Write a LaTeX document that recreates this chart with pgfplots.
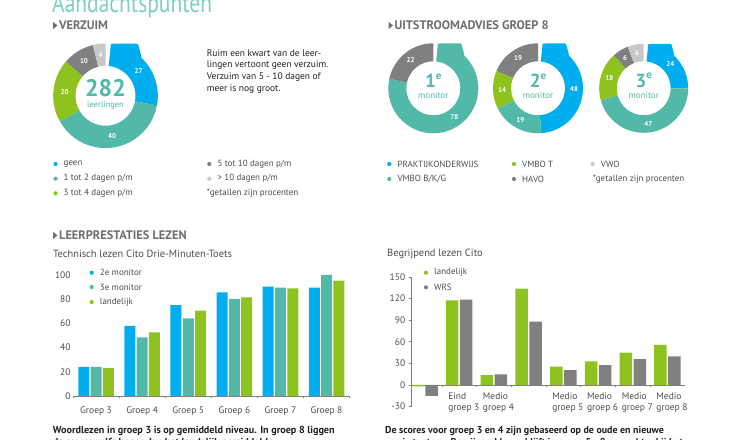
\documentclass[border=0pt]{standalone}
\usepackage{pgfplots}
\usepackage{pgfplotstable}
\pgfplotsset{compat=1.18}
\usepackage{fontspec}
\setmainfont{PT Sans}
\definecolor{cblue}{HTML}{00AEEF}
\definecolor{cteal}{HTML}{52B9A8}
\definecolor{cgreen}{HTML}{8DC21F}
\definecolor{cdgray}{HTML}{808080}
\definecolor{clgray}{HTML}{C8C8C8}
\definecolor{ctitle}{HTML}{7CCFC3}
\definecolor{chead}{HTML}{6D6E71}
\definecolor{ctext}{HTML}{231F20}
\definecolor{clab}{HTML}{4D4D4F}
\definecolor{caxis}{HTML}{808080}

\pgfplotstableread{
g b t l
0 24 24 23
1 58 48.5 52.6
2 75.2 64.2 70.5
3 85.7 80 81.5
4 90.4 89.5 89
5 89.5 100 95.3
}\techtable

\pgfplotstableread{
g land wrs
0 -2 -15
1 117.7 118.6
2 13.8 14.8
3 133.8 88
4 25.4 20.8
5 32.8 27.7
6 44.8 36
7 55.8 39.7
}\begtable

% donut: cx, cy (from top), r out, r in, total, list cum/value/colour
\newcommand{\donut}[6]{%
 \begin{scope}[shift={(#1,440-#2)}]
  \foreach \c/\v/\col [count=\i] in {#6} {
    \pgfmathsetmacro{\sa}{84-\c/#5*354}
    \pgfmathsetmacro{\ea}{84-(\c+\v)/#5*354}
    \pgfmathsetmacro{\ma}{(\sa+\ea)/2}
    \fill[\col] (\sa:#3) arc[start angle=\sa, end angle=\ea, radius=#3] -- (\ea:#4) arc[start angle=\ea, end angle=\sa, radius=#4] -- cycle;
    \ifnum\i=1
      \fill[\col, rounded corners=1bp] (84:#3) -- ({0.62*#3},{#3}) -- (46:{#3}) -- (60:{0.9*#3}) -- cycle;
    \fi
    \node[text=white, font=\bfseries\fontsize{7}{7}\selectfont] at (\ma:{(#3+#4)/2}) {\v};
  }
 \end{scope}}

\newcommand{\heading}[3]{%
  \fill[chead] (#1,440-#2+3.6) -- (#1,440-#2-3.6) -- (#1+4.5,440-#2) -- cycle;
  \node[anchor=west, inner sep=0pt, text=chead, font=\bfseries\fontsize{12.4}{12.4}\selectfont] at (#1+6,440-#2) {#3};}

\newcommand{\bul}[4]{% x y colour text
  \fill[#3] (#1,440-#2) circle (2.1);
  \node[anchor=west, inner sep=0pt, text=clab, font=\fontsize{9}{9}\selectfont] at (#1+8,440-#2) {#4};}

\begin{document}
\begin{tikzpicture}[x=1bp, y=1bp]
\useasboundingbox (0,0) rectangle (740,440);
\fill[white] (0,0) rectangle (740,440);
\coordinate (A1) at (73,44);
\coordinate (A2) at (411.7,33.4);

% title
\node[anchor=base west, inner sep=0pt, text=ctitle, font=\fontsize{27}{27}\selectfont] at (52,440-12.3) {\scalebox{0.8}[1]{Aandachtspunten}};

\heading{53}{25.5}{VERZUIM}
\heading{388.5}{25.5}{UITSTROOMADVIES GROEP 8}
\heading{53}{235.5}{LEERPRESTATIES LEZEN}

% donuts
\donut{105.5}{95.8}{52.3}{30}{101}{0/27/cblue,27/40/cteal,67/20/cgreen,87/10/cdgray,97/4/clgray}
\node[inner sep=0pt, text=cteal, font=\bfseries\fontsize{24}{24}\selectfont] at (105.5,440-88) {282};
\node[inner sep=0pt, text=cteal, font=\fontsize{8.5}{8.5}\selectfont] at (105.5,440-105.5) {leerlingen};

\donut{433.3}{88.3}{45}{27}{100}{0/78/cteal,78/22/cdgray}
\donut{538}{88.3}{45}{27}{100}{0/48/cblue,48/19/cteal,67/14/cgreen,81/19/cdgray}
\donut{643.7}{88.3}{44.5}{27}{101}{0/24/cblue,24/47/cteal,71/18/cgreen,89/6/cdgray,95/6/clgray}
\foreach \cx/\n in {433.3/1,538/2,643.7/3} {
  \node[inner sep=0pt, text=cteal, font=\bfseries\fontsize{19}{19}\selectfont] at (\cx,440-80.5) {\n\raisebox{0.45em}{\fontsize{11}{11}\selectfont e}};
  \node[inner sep=0pt, text=cteal, font=\fontsize{9}{9}\selectfont] at (\cx,440-95) {monitor};
}

% paragraph
\foreach \t [count=\k from 0] in {Ruim een kwart van de leer-,lingen vertoont geen verzuim.,Verzuim van 5 - 10 dagen of,meer is nog groot.} {
  \node[anchor=west, inner sep=0pt, text=ctext, font=\fontsize{9.5}{9.5}\selectfont] at (206.7,440-53.3-12*\k) {\t};
}

% legends verzuim
\bul{55.5}{164}{cblue}{geen}
\bul{55.5}{178.7}{cteal}{1 tot 2 dagen p/m}
\bul{55.5}{193.3}{cgreen}{3 tot 4 dagen p/m}
\bul{209.3}{164}{cdgray}{5 tot 10 dagen p/m}
\bul{209.3}{178.7}{clgray}{> 10 dagen p/m}
\node[anchor=west, inner sep=0pt, text=clab, font=\fontsize{9}{9}\selectfont] at (206.7,440-193.3) {*getallen zijn procenten};

% legends uitstroom
\bul{389.3}{164}{cblue}{PRAKTIJKONDERWIJS}
\bul{389.3}{179}{cteal}{VMBO B/K/G}
\bul{514}{164}{cgreen}{VMBO T}
\bul{514}{179}{cdgray}{HAVO}
\bul{592.7}{164}{clgray}{VWO}
\node[anchor=west, inner sep=0pt, text=clab, font=\fontsize{9}{9}\selectfont] at (592.7,440-179) {*getallen zijn procenten};

% chart titles
\node[anchor=west, inner sep=0pt, text=clab, font=\fontsize{10.5}{10.5}\selectfont] at (53,440-253.5) {Technisch lezen Cito Drie-Minuten-Toets};
\node[anchor=west, inner sep=0pt, text=clab, font=\fontsize{10.5}{10.5}\selectfont] at (387,440-253.5) {Begrijpend lezen Cito};

% chart 1
\begin{axis}[at={(A1)}, anchor=south west, scale only axis,
  width=276.6bp, height=121bp,
  xmin=-0.5, xmax=5.5, ymin=0, ymax=100,
  ybar=1.3bp, bar width=11bp,
  axis x line*=bottom, axis y line*=left,
  y axis line style={draw=none},
  x axis line style={caxis, line width=0.6bp},
  ytick={0,20,...,100}, major tick length=0pt,
  xtick={0,...,5}, xticklabels={Groep 3,Groep 4,Groep 5,Groep 6,Groep 7,Groep 8},
  minor xtick={-0.5,0.5,...,5.5}, minor tick length=2.5bp, tick align=outside,
  minor x tick style={draw=caxis, line width=0.6bp},
  ticklabel style={font=\fontsize{9.5}{9.5}\selectfont, text=clab},
  /pgf/number format/assume math mode=true,
  xticklabel style={yshift=-7bp},
  yticklabel style={xshift=1bp},
  clip=false]
\addplot[fill=cblue, draw=none] table[x=g,y=b]{\techtable};
\addplot[fill=cteal, draw=none] table[x=g,y=t]{\techtable};
\addplot[fill=cgreen, draw=none] table[x=g,y=l]{\techtable};
\end{axis}
\bul{91.7}{272.7}{cblue}{2e monitor}
\bul{91.7}{287}{cteal}{3e monitor}
\bul{91.7}{302}{cgreen}{landelijk}

% chart 2
\begin{axis}[at={(A2)}, anchor=south west, scale only axis,
  width=273.1bp, height=129.6bp,
  xmin=-0.37, xmax=7.5, ymin=-30, ymax=150,
  ybar=1.5bp, bar width=12.5bp,
  axis x line*=middle, axis y line*=left,
  hide obscured x ticks=false, hide obscured y ticks=false,
  axis line style={caxis, line width=0.6bp},
  ytick={-30,0,...,150}, major tick length=3bp, tick align=outside,
  major x tick style={draw=none},
  y tick style={draw=caxis, line width=0.6bp},
  xtick={0,...,7},
  xticklabels={{},{Eind\\groep 3},{Medio\\groep 4},{},{Medio\\groep 5},{Medio\\groep 6},{Medio\\groep 7},{Medio\\groep 8}},
  xticklabel style={align=left, anchor=north west, xshift=-14.5bp, yshift=-1bp},
  minor xtick={0.5,1.5,...,6.5}, minor tick length=2.5bp,
  minor x tick style={draw=caxis, line width=0.6bp},
  ticklabel style={font=\fontsize{9.5}{11.5}\selectfont, text=clab},
  /pgf/number format/assume math mode=true,
  clip=false]
\addplot[fill=cgreen, draw=none] table[x=g,y=land]{\begtable};
\addplot[fill=cdgray, draw=none] table[x=g,y=wrs]{\begtable};
\end{axis}
\bul{426}{272.7}{cgreen}{landelijk}
\bul{426}{287.3}{cdgray}{WRS}

% texts below charts
\node[anchor=base west, inner sep=0pt, text=ctext, font=\bfseries\fontsize{10.2}{10.2}\selectfont] at (52.7,440-433.5) {Woordlezen in groep 3 is op gemiddeld niveau. In groep 8 liggen};
\node[anchor=base west, inner sep=0pt, text=ctext, font=\bfseries\fontsize{10.2}{10.2}\selectfont] at (52.7,440-445.5) {de scores zelfs hoger dan het landelijk gemiddelde.};
\node[anchor=base west, inner sep=0pt, text=ctext, font=\bfseries\fontsize{10}{10}\selectfont] at (385,440-433.5) {De scores voor groep 3 en 4 zijn gebaseerd op de oude en nieuwe};
\node[anchor=base west, inner sep=0pt, text=ctext, font=\bfseries\fontsize{10}{10}\selectfont] at (385,440-445.5) {versie toetsen. Begrijpend lezen blijft in groep 5 - 8 nog achter bij het};
\end{tikzpicture}
\end{document}
